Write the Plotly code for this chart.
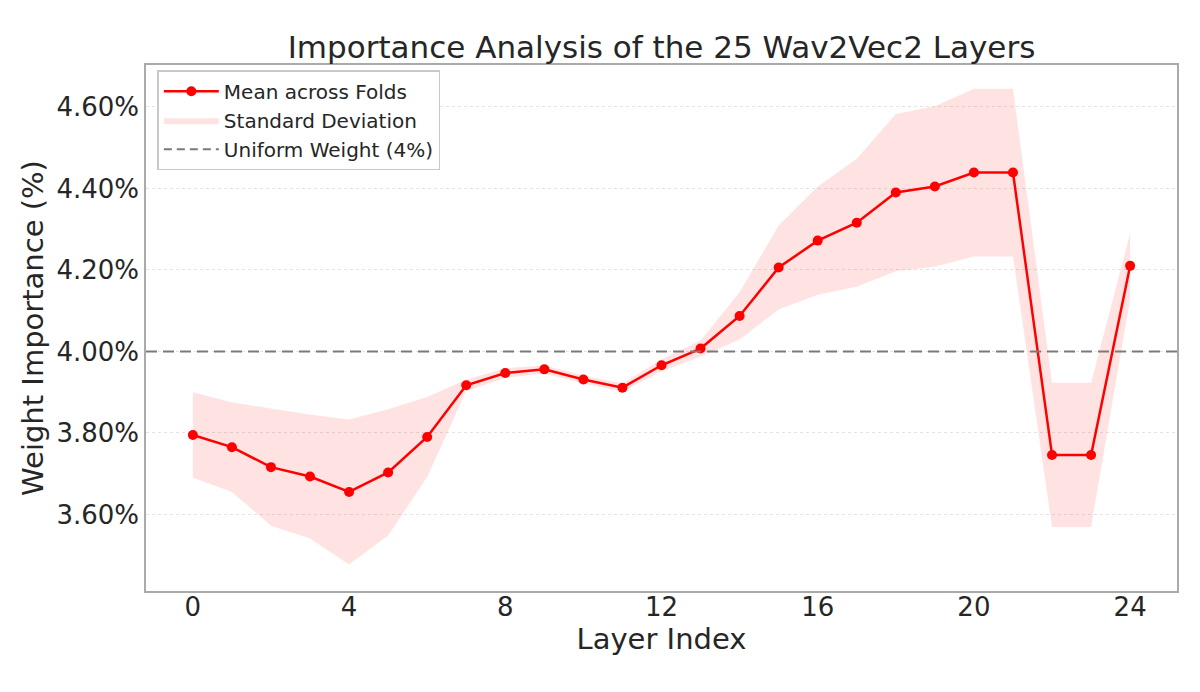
import plotly.graph_objects as go

# Layer importance (% of total weight)
layers = list(range(25))
mean_importance = [3.795, 3.765, 3.716, 3.693, 3.655, 3.703, 3.790, 3.917, 3.947, 3.956,
                   3.931, 3.911, 3.966, 4.007, 4.087, 4.206, 4.272, 4.316, 4.390, 4.405,
                   4.439, 4.439, 3.746, 3.746, 4.210]
std_importance = [0.105, 0.110, 0.144, 0.152, 0.178, 0.155, 0.098, 0.014, 0.012, 0.010,
                  0.010, 0.010, 0.015, 0.020, 0.058, 0.103, 0.133, 0.157, 0.193, 0.197,
                  0.206, 0.206, 0.177, 0.177, 0.080]
uniform_weight = 100 / len(layers)
x_ticks = [0, 4, 8, 12, 16, 20, 24]
y_ticks = [3.6, 3.8, 4.0, 4.2, 4.4, 4.6]

upper = [m + s for m, s in zip(mean_importance, std_importance)]
lower = [m - s for m, s in zip(mean_importance, std_importance)]

FONT = "DejaVu Sans"
TXT = "#262626"

fig = go.Figure()

# --- std band ---
fig.add_trace(go.Scatter(
    x=layers, y=upper,
    mode="lines", line=dict(width=0, color="rgba(255,0,0,0)"),
    showlegend=False, hoverinfo="skip",
))
fig.add_trace(go.Scatter(
    x=layers, y=lower,
    mode="lines", line=dict(width=0, color="rgba(255,0,0,0)"),
    fill="tonexty", fillcolor="rgba(255,0,0,0.11)",
    name="Standard Deviation", legendrank=2, hoverinfo="skip",
))

# --- mean line ---
fig.add_trace(go.Scatter(
    x=layers, y=mean_importance,
    mode="lines+markers",
    line=dict(color="#ff0000", width=2.5),
    marker=dict(color="#ff0000", size=10),
    name="Mean across Folds", legendrank=1,
))

# --- uniform reference ---
fig.add_hline(y=uniform_weight, line=dict(color="#7a7a7a", width=2, dash="11px,6px"), layer="above")
fig.add_trace(go.Scatter(
    x=[None], y=[None], mode="lines",
    line=dict(color="#7a7a7a", width=2, dash="8px,5px"),
    name="Uniform Weight (4%)", legendrank=3,
))

# page has an 8px body margin, so layout numbers are page px minus 8
fig.update_layout(
    width=1200, height=692,
    margin=dict(l=138, r=31, t=57, b=109),
    paper_bgcolor="white", plot_bgcolor="white",
    font=dict(family=FONT, color=TXT),
    title=dict(text="Importance Analysis of the 25 Wav2Vec2 Layers",
               x=0.5, xref="paper", xanchor="center",
               y=1 - 39 / 692, yref="container", yanchor="middle",
               font=dict(size=31, color=TXT)),
    legend=dict(x=0.011, y=0.99, xanchor="left", yanchor="top",
                bgcolor="white", bordercolor="#c8c8c8", borderwidth=1.5,
                font=dict(size=20, color=TXT), traceorder="normal",
                itemwidth=55),
    showlegend=True,
)

fig.update_xaxes(
    range=[-1.2, 25.2], tickvals=x_ticks,
    showgrid=False, zeroline=False,
    showline=True, linecolor="#aaaaaa", linewidth=1.5, mirror=True,
    ticks="", automargin=False, ticklabelstandoff=-8,
    tickfont=dict(size=26, color=TXT),
    title=dict(text="Layer Index", font=dict(size=29, color=TXT), standoff=4),
)
fig.update_yaxes(
    range=[3.412, 4.703], tickvals=y_ticks,
    ticktext=[f"{v:.2f}%" for v in y_ticks],
    showgrid=True, gridcolor="#e3e3e3", griddash="dot", gridwidth=1,
    zeroline=False,
    showline=True, linecolor="#aaaaaa", linewidth=1.5, mirror=True,
    ticks="", automargin=False,
    tickfont=dict(size=26, color=TXT),
    title=dict(text="Weight Importance (%)", font=dict(size=29, color=TXT), standoff=4),
)

fig.write_html("out.html")
